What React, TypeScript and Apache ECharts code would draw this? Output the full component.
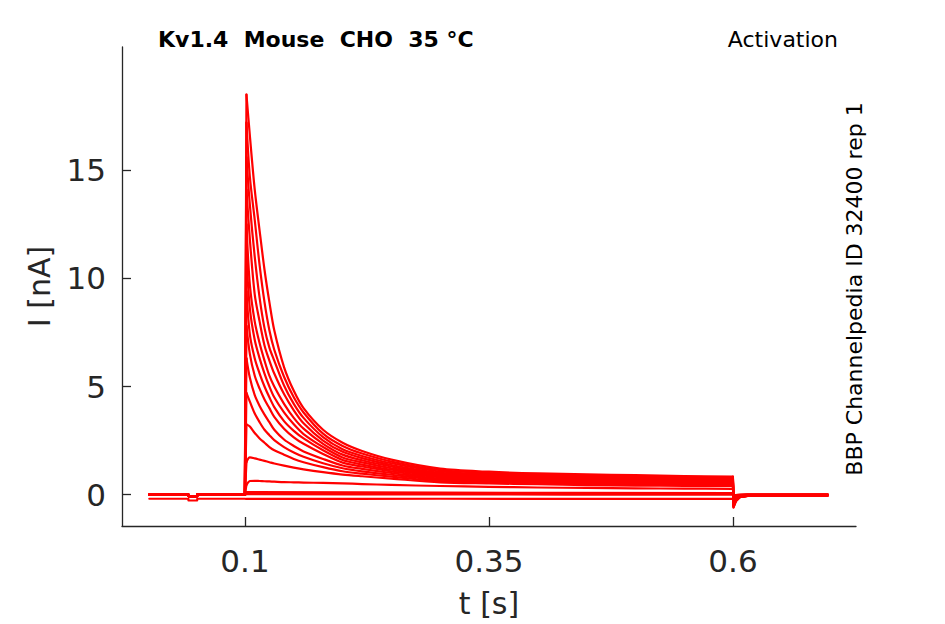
import React, { useEffect, useRef } from 'react';
import * as echarts from 'echarts';

// time points (s)
const preT = [0.002, 0.042, 0.0421, 0.051, 0.0511, 0.0999];
const pulseT = [0.1015, 0.105, 0.11, 0.115, 0.12, 0.125, 0.13, 0.14, 0.15, 0.16, 0.18, 0.2, 0.22, 0.25, 0.3, 0.35, 0.4, 0.45, 0.5, 0.55, 0.5999];
const flatT = [0.1015, 0.3, 0.5999];
const tailT = [0.6005, 0.603, 0.607, 0.615, 0.697];

// holding current before the step (nA)
const preBase = [0, 0, -0.07, -0.07, 0, 0];
const preLow = [-0.19, -0.19, -0.27, -0.27, -0.19, -0.19];

// activating steps (nA), one row per sweep
const sweep1 = [18.5, 16.6, 14.1, 12.2, 10.4, 8.9, 7.6, 5.9, 4.8, 4.0, 3.0, 2.4, 2.02, 1.62, 1.2, 1.06, 0.98, 0.94, 0.9, 0.86, 0.83];
const sweep2 = [17.2, 14.7, 12.7, 10.6, 8.9, 7.6, 6.7, 5.45, 4.5, 3.8, 2.82, 2.25, 1.9, 1.53, 1.13, 1.0, 0.93, 0.89, 0.86, 0.82, 0.79];
const sweep3 = [15.6, 13.4, 11.0, 9.1, 7.7, 6.8, 6.2, 5.05, 4.2, 3.55, 2.66, 2.1, 1.79, 1.45, 1.07, 0.95, 0.88, 0.85, 0.82, 0.78, 0.75];
const sweep4 = [14.1, 11.8, 9.25, 8.0, 6.9, 6.2, 5.6, 4.65, 3.9, 3.3, 2.5, 1.98, 1.69, 1.37, 1.01, 0.9, 0.84, 0.81, 0.78, 0.75, 0.72];
const sweep5 = [12.5, 9.7, 8.0, 7.0, 6.2, 5.5, 5.0, 4.2, 3.55, 3.05, 2.35, 1.85, 1.59, 1.3, 0.95, 0.85, 0.8, 0.77, 0.74, 0.71, 0.68];
const sweep6 = [11.0, 8.6, 7.15, 6.3, 5.6, 5.0, 4.5, 3.8, 3.25, 2.8, 2.2, 1.72, 1.49, 1.22, 0.9, 0.81, 0.76, 0.73, 0.7, 0.68, 0.65];
const sweep7 = [9.4, 7.4, 6.3, 5.6, 5.0, 4.5, 4.05, 3.4, 2.95, 2.6, 2.05, 1.6, 1.39, 1.15, 0.85, 0.77, 0.72, 0.69, 0.66, 0.64, 0.61];
const sweep8 = [7.8, 6.5, 5.5, 4.9, 4.4, 4.0, 3.6, 3.05, 2.65, 2.35, 1.88, 1.48, 1.3, 1.08, 0.8, 0.73, 0.68, 0.64, 0.62, 0.6, 0.58];
const sweep9 = [6.3, 5.4, 4.6, 4.1, 3.7, 3.35, 3.0, 2.55, 2.25, 2.0, 1.65, 1.35, 1.19, 1.0, 0.74, 0.68, 0.63, 0.6, 0.58, 0.56, 0.54];
const sweep10 = [4.7, 4.3, 3.75, 3.35, 3.0, 2.75, 2.52, 2.2, 1.95, 1.75, 1.45, 1.22, 1.08, 0.92, 0.69, 0.63, 0.58, 0.55, 0.53, 0.51, 0.5];
const sweep11 = [3.25, 3.15, 2.85, 2.6, 2.4, 2.2, 2.05, 1.85, 1.65, 1.5, 1.27, 1.08, 0.97, 0.83, 0.63, 0.58, 0.54, 0.5, 0.48, 0.47, 0.46];
const sweep12 = [1.5, 1.72, 1.68, 1.62, 1.56, 1.5, 1.44, 1.34, 1.25, 1.17, 1.04, 0.93, 0.85, 0.74, 0.57, 0.52, 0.48, 0.44, 0.42, 0.41, 0.4];
const sweep13 = [0.45, 0.63, 0.64, 0.63, 0.62, 0.61, 0.6, 0.58, 0.57, 0.56, 0.54, 0.52, 0.49, 0.45, 0.4, 0.36, 0.33, 0.31, 0.29, 0.28, 0.27];

// sweeps that barely activate (on flatT)
const flat1 = [0.12, 0.09, 0.07];
const flat2 = [0.06, 0.04, 0.03];
const flat3 = [0.02, 0.01, 0.0];
const flat4 = [-0.2, -0.19, -0.2];

// tail currents after the step (on tailT)
const tail1 = [-0.6, -0.3, -0.12, -0.06, -0.04];
const tail2 = [-0.58, -0.29, -0.12, -0.06, -0.04];
const tail3 = [-0.55, -0.27, -0.11, -0.06, -0.04];
const tail4 = [-0.52, -0.25, -0.1, -0.05, -0.04];
const tail5 = [-0.5, -0.24, -0.1, -0.05, -0.03];
const tail6 = [-0.45, -0.22, -0.09, -0.05, -0.03];
const tail7 = [-0.4, -0.2, -0.08, -0.04, -0.03];
const tail8 = [-0.35, -0.17, -0.07, -0.04, -0.02];
const tail9 = [-0.3, -0.15, -0.06, -0.03, -0.02];
const tail10 = [-0.25, -0.12, -0.05, -0.03, -0.02];
const tail11 = [-0.2, -0.1, -0.04, -0.02, -0.01];
const tail12 = [-0.15, -0.07, -0.03, -0.01, 0.0];
const tail13 = [-0.1, -0.05, -0.02, 0.0, 0.0];
const tailFlat = [-0.02, -0.02, -0.01, 0.0, 0.0];
const tailLow = [-0.12, -0.1, -0.08, -0.06, -0.05];

const xTicks = [0.1, 0.35, 0.6];
const yTicks = [0, 5, 10, 15];

const title = 'Kv1.4  Mouse  CHO  35 °C';
const protocol = 'Activation';
const sourceLabel = 'BBP Channelpedia ID 32400 rep 1';

const zip = (ts: number[], vs: number[]) => ts.map((t, i) => [t, vs[i]]);

const sweeps = [
  { pre: preBase, t: pulseT, v: sweep1, tail: tail1 },
  { pre: preBase, t: pulseT, v: sweep2, tail: tail2 },
  { pre: preBase, t: pulseT, v: sweep3, tail: tail3 },
  { pre: preBase, t: pulseT, v: sweep4, tail: tail4 },
  { pre: preBase, t: pulseT, v: sweep5, tail: tail5 },
  { pre: preBase, t: pulseT, v: sweep6, tail: tail6 },
  { pre: preBase, t: pulseT, v: sweep7, tail: tail7 },
  { pre: preBase, t: pulseT, v: sweep8, tail: tail8 },
  { pre: preBase, t: pulseT, v: sweep9, tail: tail9 },
  { pre: preBase, t: pulseT, v: sweep10, tail: tail10 },
  { pre: preBase, t: pulseT, v: sweep11, tail: tail11 },
  { pre: preBase, t: pulseT, v: sweep12, tail: tail12 },
  { pre: preBase, t: pulseT, v: sweep13, tail: tail13 },
  { pre: preBase, t: flatT, v: flat1, tail: tailFlat },
  { pre: preBase, t: flatT, v: flat2, tail: tailFlat },
  { pre: preBase, t: flatT, v: flat3, tail: tailFlat },
  { pre: preLow, t: flatT, v: flat4, tail: tailLow },
];

const FONT = 'DejaVu Sans';
const INK = '#262626';
const RED = '#ff0000';

const App: React.FC = () => {
  const chartRef = useRef<HTMLDivElement>(null);

  useEffect(() => {
    const chart = echarts.init(chartRef.current as HTMLDivElement, undefined, { renderer: 'svg' });

    const line = (data: number[][], smooth: number) => ({
      type: 'line',
      showSymbol: false,
      silent: true,
      smooth,
      lineStyle: { color: RED, width: 2.2, cap: 'round', join: 'round' },
      data,
    });

    // each sweep: holding + step onset, decay during the step, tail after it
    const series: any[] = [];
    sweeps.forEach((s) => {
      const step = zip(s.t, s.v);
      series.push(line([...zip(preT, s.pre), step[0]], 0));
      series.push(line(step, 0.3));
      series.push(line([step[step.length - 1], ...zip(tailT, s.tail)], 0));
    });

    const option = {
      animation: false,
      title: {
        text: title,
        left: 158,
        top: 28,
        padding: 0,
        textStyle: { fontFamily: FONT, fontWeight: 'bold', fontSize: 22, color: '#000' },
      },
      grid: { left: 122, right: 89, top: 47, bottom: 98 },
      xAxis: {
        type: 'value',
        min: -0.026,
        max: 0.726,
        name: 't [s]',
        nameLocation: 'middle',
        nameGap: 62,
        nameTextStyle: { fontFamily: FONT, fontSize: 30, color: INK },
        splitLine: { show: false },
        axisLine: { onZero: false, lineStyle: { color: INK, width: 1.3 } },
        axisTick: { inside: true, length: 9, customValues: xTicks, lineStyle: { color: INK, width: 1.3 } },
        axisLabel: { customValues: xTicks, margin: 19, fontFamily: FONT, fontSize: 31, color: INK },
      },
      yAxis: {
        type: 'value',
        min: -1.45,
        max: 20.7,
        name: 'I [nA]',
        nameLocation: 'middle',
        nameGap: 68,
        nameTextStyle: { fontFamily: FONT, fontSize: 30, color: INK },
        splitLine: { show: false },
        axisLine: { show: true, onZero: false, lineStyle: { color: INK, width: 1.3 } },
        axisTick: { show: true, inside: true, length: 9, customValues: yTicks, lineStyle: { color: INK, width: 1.3 } },
        axisLabel: { customValues: yTicks, margin: 16, fontFamily: FONT, fontSize: 31, color: INK },
      },
      graphic: [
        {
          type: 'text',
          x: 838,
          y: 39,
          style: {
            text: protocol,
            font: `22px "${FONT}"`,
            fill: '#000',
            textAlign: 'right',
            textVerticalAlign: 'middle',
            align: 'right',
            verticalAlign: 'middle',
          },
        },
        {
          type: 'text',
          x: 854,
          y: 289,
          rotation: Math.PI / 2,
          style: {
            text: sourceLabel,
            font: `22px "${FONT}"`,
            fill: '#000',
            textAlign: 'center',
            textVerticalAlign: 'middle',
            align: 'center',
            verticalAlign: 'middle',
          },
        },
      ],
      series,
    };

    chart.setOption(option as any);

    return () => {
      chart.dispose();
    };
  }, []);

  return (
    <div
      ref={chartRef}
      style={{ position: 'fixed', left: 0, top: 0, width: '945px', height: '624px', background: '#fff' }}
    ></div>
  );
};

export default App;
